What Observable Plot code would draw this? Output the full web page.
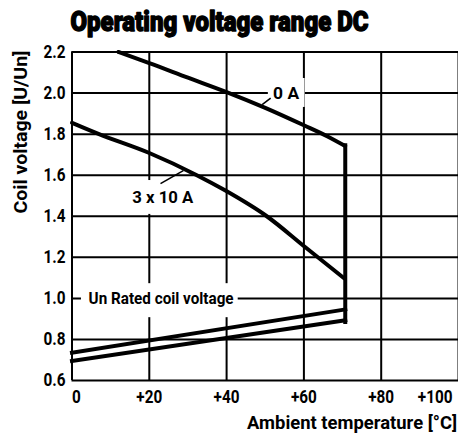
<!DOCTYPE html>
<html><head><meta charset="utf-8">
<script src="https://cdn.jsdelivr.net/npm/d3@7"></script>
<script src="https://cdn.jsdelivr.net/npm/@observablehq/plot@0.6"></script>
<style>body{margin:0;background:#fff} svg{display:block}</style>
</head><body><div id="chart"></div>
<script>
const FONT = 'Roboto, "Liberation Sans", sans-serif';

// Tick values and labels
const xTicks = [0, 20, 40, 60, 80, 100];
const xTickLabels = ["0", "+20", "+40", "+60", "+80", "+100"];
const yTicks = [0.6, 0.8, 1.0, 1.2, 1.4, 1.6, 1.8, 2.0, 2.2];
const yTickLabels = ["0.6", "0.8", "1.0", "1.2", "1.4", "1.6", "1.8", "2.0", "2.2"];

// Curve 0 A (upper limit)
const temp0A = [12, 20, 30, 40, 50, 60, 66, 70.7];
const volt0A = [2.2, 2.146, 2.075, 2.005, 1.928, 1.843, 1.79, 1.742];

// Vertical drop at the maximum ambient temperature
const tempMax = [70.7, 70.7];
const voltMax = [1.746, 0.885];

// Curve 3 x 10 A
const temp30A = [0, 7, 20, 32.3, 39.7, 50.4, 60.3, 70.4];
const volt30A = [1.855, 1.8, 1.708, 1.6, 1.525, 1.4, 1.25, 1.098];

// Lower limit lines (pick-up voltage)
const tempLowA = [0, 70.7];
const voltLowA = [0.735, 0.946];
const tempLowB = [0, 70.7];
const voltLowB = [0.695, 0.893];

// Annotation labels
const labelTexts = ["0 A", "3 x 10 A"];
const labelX = [55.4, 23.5];
const labelY = [2.0, 1.491];
const unLabel = "Un Rated coil voltage";

const rows = [];
const add = (ts, vs, s) => ts.forEach((t, i) => rows.push({t, v: vs[i], s}));
add(temp0A, volt0A, "0A");
add(temp30A, volt30A, "30A");
const straight = [];
const addS = (ts, vs, s) => ts.forEach((t, i) => straight.push({t, v: vs[i], s}));
addS(tempMax, voltMax, "max");
addS(tempLowA, voltLowA, "lowA");
addS(tempLowB, voltLowB, "lowB");

// white masks behind labels (interrupting the grid)
const masks = [
  {x1: 50.8, x2: 60.3, y1: 1.930, y2: 2.071},
  {x1: 14.7, x2: 32.4, y1: 1.409, y2: 1.574},
  {x1: 2.45, x2: 43.0, y1: 0.906, y2: 1.0716}
];
// leader ticks from labels to curves
const leaders = [
  {x1: 49.2, y1: 1.944, x2: 51.4, y2: 1.975},
  {x1: 22.9, y1: 1.559, x2: 28.8, y2: 1.622}
];
const labels = labelTexts.map((t, i) => ({t, x: labelX[i], y: labelY[i]}));

const T = {fontWeight: "bold", fill: "black", lineAnchor: "middle"};

const chart = Plot.plot({
  width: 458,
  height: 437,
  marginLeft: 71.5,
  marginRight: 0,
  marginTop: 51.5,
  marginBottom: 57,
  x: {domain: [0, 100], axis: null},
  y: {domain: [0.6, 2.2], axis: null},
  style: {fontFamily: FONT, background: "white", color: "black"},
  marks: [
    Plot.ruleX(xTicks, {x: d => d, stroke: "black", strokeWidth: 2}),
    Plot.ruleY(yTicks, {y: d => d, stroke: "black", strokeWidth: 2}),
    Plot.rect(masks, {x1: "x1", x2: "x2", y1: "y1", y2: "y2", fill: "white"}),
    Plot.line(rows, {x: "t", y: "v", z: "s", stroke: "black", strokeWidth: 4, curve: "monotone-x"}),
    Plot.line(straight, {x: "t", y: "v", z: "s", stroke: "black", strokeWidth: 4, strokeLinecap: "square"}),
    Plot.link(leaders, {x1: "x1", y1: "y1", x2: "x2", y2: "y2", stroke: "black", strokeWidth: 1.6}),
    Plot.text(labels, {x: "x", y: "y", text: "t", fontSize: 17, ...T}),
    Plot.text([unLabel], {x: 4.3, y: 1.0, text: d => d, textAnchor: "start", fontSize: 17, ...T}),
    // y tick labels
    Plot.text(yTicks, {y: d => d, frameAnchor: "left", text: (d, i) => yTickLabels[i], textAnchor: "end", dx: -6.5, fontSize: 18, ...T}),
    // x tick labels
    Plot.text(xTicks.slice(0, 1), {x: d => d, frameAnchor: "bottom", text: (d, i) => xTickLabels[i], textAnchor: "start", dy: 17, fontSize: 18, ...T}),
    Plot.text(xTicks.slice(1, -1), {x: d => d, frameAnchor: "bottom", text: (d, i) => xTickLabels[i + 1], textAnchor: "middle", dy: 17, fontSize: 18, ...T}),
    Plot.text(xTicks.slice(-1), {x: d => d, frameAnchor: "bottom", text: () => xTickLabels[xTickLabels.length - 1], textAnchor: "end", dy: 17, dx: -6, fontSize: 18, ...T}),
    // axis titles
    Plot.text(["Ambient temperature [°C]"], {frameAnchor: "bottom-right", text: d => d, textAnchor: "end", dy: 43, dx: -1.5, fontSize: 18, ...T}),
    Plot.text(["Coil voltage [U/Un]"], {frameAnchor: "top-left", text: d => d, rotate: -90, textAnchor: "end", dx: -51, dy: -1.5, fontSize: 18, ...T}),
    // title
    Plot.text(["Operating voltage range DC"], {frameAnchor: "top-left", text: d => d, textAnchor: "start", dx: -1.5, dy: -29.5, fontSize: 28, ...T, fontWeight: 900, stroke: "black", strokeWidth: 1.4})
  ]
});
document.getElementById("chart").appendChild(chart);

// condense the text to match the narrow typeface of the original
const targets = {
  "Operating voltage range DC": 298,
  "Coil voltage [U/Un]": 163,
  "Ambient temperature [°C]": 210,
  "0 A": 26,
  "3 x 10 A": 61,
  "Un Rated coil voltage": 145
};
const texts = Array.from(chart.querySelectorAll("text"));
const ref = texts.find(t => t.textContent === "2.2");
const tickFactor = ref ? 22 / ref.getComputedTextLength() : 0.85;
texts.forEach(el => {
  const w = el.getComputedTextLength();
  const tw = targets[el.textContent] != null ? targets[el.textContent] : w * tickFactor;
  const anchor = getComputedStyle(el).textAnchor;
  el.setAttribute("text-anchor", "start");
  if (anchor === "end") el.setAttribute("x", (-tw).toFixed(1));
  else if (anchor === "middle") el.setAttribute("x", (-tw / 2).toFixed(1));
  el.setAttribute("textLength", tw.toFixed(1));
  el.setAttribute("lengthAdjust", "spacingAndGlyphs");
});
</script>
</body></html>
